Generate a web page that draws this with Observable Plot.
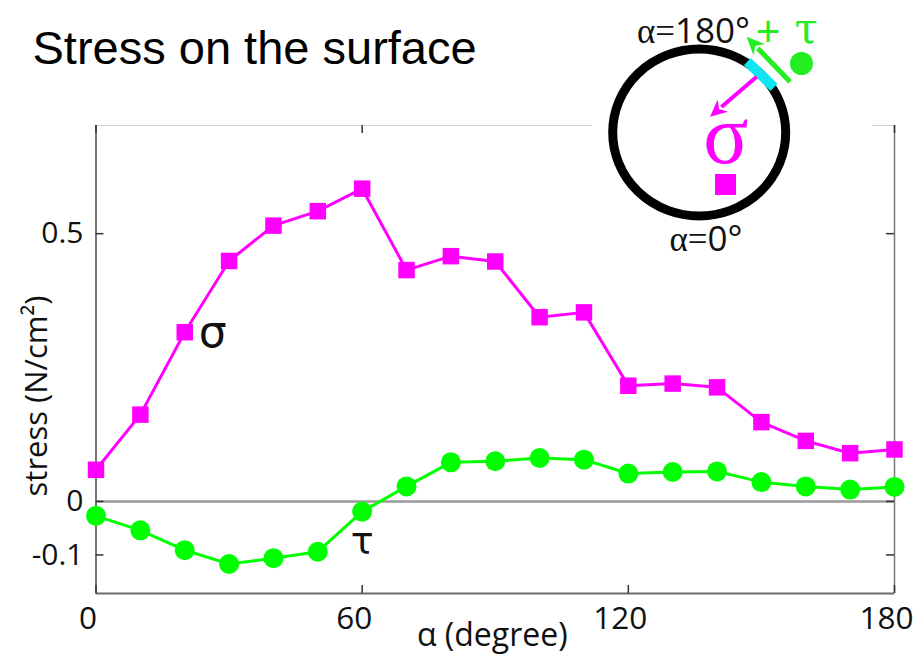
<!DOCTYPE html>
<html><head><meta charset="utf-8">
<script src="https://cdn.jsdelivr.net/npm/d3@7"></script>
<script src="https://cdn.jsdelivr.net/npm/@observablehq/plot@0.6"></script>
<style>
html,body{margin:0;padding:0;background:#fff;}
#chart{width:922px;height:658px;overflow:hidden;position:relative;}
</style></head><body><div id="chart"></div>
<script>
// ---- data ----
const alpha = [0,10,20,30,40,50,60,70,80,90,100,110,120,130,140,150,160,170,180];
const sigma = [0.059,0.162,0.316,0.449,0.515,0.542,0.584,0.432,0.458,0.448,0.344,0.353,0.216,0.220,0.213,0.148,0.113,0.090,0.097];
const tau   = [-0.027,-0.054,-0.091,-0.117,-0.106,-0.094,-0.019,0.028,0.073,0.075,0.081,0.078,0.052,0.055,0.056,0.036,0.028,0.022,0.027];
const xTicks = [0,60,120,180];
const yTicks = [-0.1,0,0.5];
const xDomain = [0,180];
const yDomain = [-0.172,0.702];
const title = "Stress on the surface";
const xLabel = "α (degree)";
const yLabel = "stress (N/cm²)";
const sigmaName = "σ";
const tauName = "τ";

const sigmaData = alpha.map((a,i)=>({alpha:a, value:sigma[i]}));
const tauData = alpha.map((a,i)=>({alpha:a, value:tau[i]}));

const W=922, H=658, mL=95.5, mR=28, mT=125, mB=65;
const fw = W-mL-mR, fh = H-mT-mB;
const MAG = "#ff00ff", GRN = "#00ff00";

const chart = Plot.plot({
  width: W, height: H,
  marginLeft: mL, marginRight: mR, marginTop: mT, marginBottom: mB,
  style: {fontFamily: "'Open Sans', sans-serif", fontSize: "29px", color: "#111", background: "white", overflow: "visible"},
  x: {domain: xDomain},
  y: {domain: yDomain},
  marks: [
    Plot.frame({stroke: "#d4d4d4", strokeWidth: 1}),
    Plot.ruleY([0], {stroke: "#9a9a9a", strokeWidth: 2.5}),
    Plot.ruleX([xDomain[0]], {stroke: "#6a6a6a", strokeWidth: 1.8}),
    Plot.ruleX([xDomain[1]], {stroke: "#7a7a7a", strokeWidth: 1.5}),
    Plot.ruleY([yDomain[0]], {stroke: "#6a6a6a", strokeWidth: 1.8}),
    Plot.tickX(xTicks, {x: d=>d, stroke: "#333", strokeWidth: 1.5, insetTop: fh-8}),
    Plot.tickX(xTicks, {x: d=>d, stroke: "#333", strokeWidth: 1.5, insetBottom: fh-8}),
    Plot.tickY(yTicks, {y: d=>d, stroke: "#333", strokeWidth: 1.5, insetRight: fw-8}),
    Plot.tickY(yTicks, {y: d=>d, stroke: "#333", strokeWidth: 1.5, insetLeft: fw-8}),
    Plot.axisX({ticks: xTicks, tickSize: 0, tickPadding: 13, tickFormat: d=>String(d), label: null, fontSize: 31.5, dx: -8, fill: "#111"}),
    Plot.axisY({ticks: yTicks, tickSize: 0, tickPadding: 12.5, tickFormat: d=>String(d), label: null, fontSize: 30, fill: "#111"}),
    Plot.line(sigmaData, {x: "alpha", y: "value", stroke: MAG, strokeWidth: 3}),
    Plot.dot(sigmaData, {x: "alpha", y: "value", symbol: "square", r: 9.3, fill: MAG, stroke: "none"}),
    Plot.line(tauData, {x: "alpha", y: "value", stroke: GRN, strokeWidth: 3}),
    Plot.dot(tauData, {x: "alpha", y: "value", r: 10, fill: GRN, stroke: "none"}),
    Plot.text([{alpha: alpha[2], value: sigma[2], t: sigmaName}], {x: "alpha", y: "value", text: "t", dx: 28, dy: 1, fontSize: 44, fontFamily: "DejaVu Sans", fill: "#111"}),
    Plot.text([{alpha: alpha[6], value: tau[6], t: tauName}], {x: "alpha", y: "value", text: "t", dx: 0, dy: 30, fontSize: 38, fontFamily: "DejaVu Sans", fill: "#111"}),
    Plot.text([yLabel], {frameAnchor: "left", text: d=>d, textAnchor: "middle", lineAnchor: "middle", rotate: -90, dx: -58.8, dy: 36.5, fontSize: 31, fill: "#111"}),
    Plot.text([xLabel], {frameAnchor: "bottom", text: d=>d, textAnchor: "middle", lineAnchor: "middle", dx: -3, dy: 42.4, fontSize: 32, fill: "#111"}),
    Plot.text([title], {frameAnchor: "top-left", text: d=>d, textAnchor: "start", lineAnchor: "middle", dx: 32-mL, dy: 63-0.32*47-mT, fontSize: 47, fontFamily: "'Liberation Sans', Arial, sans-serif", fill: "#000"})
  ]
});
document.getElementById("chart").appendChild(chart);

// ---- inset diagram (decorative) ----
const svg = d3.select(chart);
const g = svg.append("g");
g.append("rect").attr("x",592).attr("y",0).attr("width",280).attr("height",258).attr("fill","white");
g.append("ellipse").attr("cx",699.2).attr("cy",132.5).attr("rx",86.5).attr("ry",83.5)
  .attr("fill","none").attr("stroke","#000").attr("stroke-width",9);
g.append("line").attr("x1",747.3).attr("y1",61.7).attr("x2",774).attr("y2",87.3)
  .attr("stroke","#10e6f2").attr("stroke-width",10);

function arrow(T,P,color,w,hl,hw){
  const dx=P[0]-T[0], dy=P[1]-T[1], L=Math.hypot(dx,dy);
  const ux=dx/L, uy=dy/L, nx=-uy, ny=ux;
  const bx=P[0]-hl*ux, by=P[1]-hl*uy;
  g.append("line").attr("x1",T[0]).attr("y1",T[1]).attr("x2",bx+2*ux).attr("y2",by+2*uy)
    .attr("stroke",color).attr("stroke-width",w);
  g.append("path").attr("d",`M${P[0]},${P[1]}L${bx+hw*nx},${by+hw*ny}L${bx+0.3*hl*ux},${by+0.3*hl*uy}L${bx-hw*nx},${by-hw*ny}Z`)
    .attr("fill",color);
}
arrow([790,81.7],[746.7,36.7],"#22ee22",5,18,8);
arrow([756.7,76.7],[710,116.7],MAG,4,17,8);

const t1 = g.append("text").attr("x",637).attr("y",43).attr("text-anchor","start").attr("font-size",35).attr("fill","#111");
t1.append("tspan").attr("font-family","'Liberation Serif', serif").text("α=");
t1.append("tspan").attr("font-family","'Open Sans', sans-serif").text("180°");
const t2 = g.append("text").attr("x",706).attr("y",251).attr("text-anchor","middle").attr("font-size",35).attr("fill","#111");
t2.append("tspan").attr("font-family","'Liberation Serif', serif").text("α=");
t2.append("tspan").attr("font-family","'Open Sans', sans-serif").text("0°");
g.append("text").attr("x",768).attr("y",47).attr("text-anchor","middle").attr("font-size",44)
  .attr("font-family","'Open Sans', sans-serif").attr("fill","#22ee22").text("+");
g.append("text").attr("x",806).attr("y",43).attr("text-anchor","middle").attr("font-size",42)
  .attr("font-family","'DejaVu Serif', serif").attr("fill","#22ee22").text(tauName);
g.append("circle").attr("cx",801.5).attr("cy",63.5).attr("r",11.5).attr("fill","#22ee22");
g.append("text").attr("x",726).attr("y",163).attr("text-anchor","middle").attr("font-size",84)
  .attr("font-family","'Liberation Serif', serif").attr("fill",MAG).text(sigmaName);
g.append("rect").attr("x",715).attr("y",174).attr("width",21).attr("height",21).attr("fill",MAG);
</script></body></html>
